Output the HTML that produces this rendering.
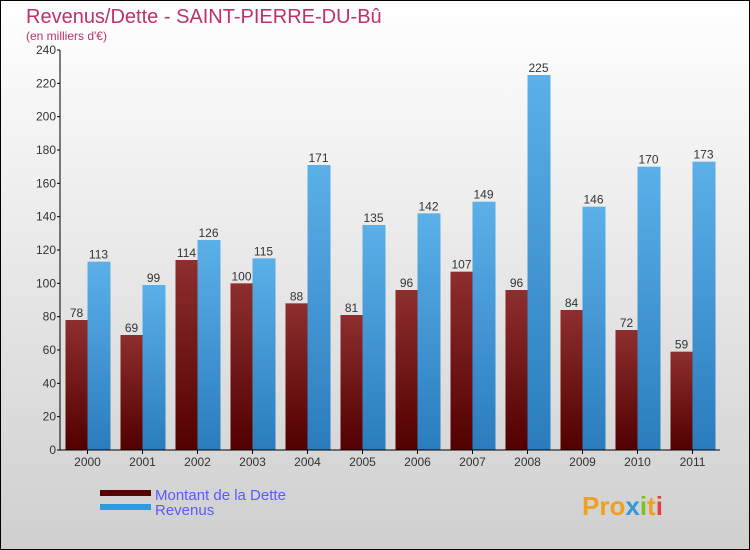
<!DOCTYPE html>
<html><head><meta charset="utf-8"><style>
body{margin:0;width:750px;height:550px;overflow:hidden}
svg{display:block;font-family:"Liberation Sans",sans-serif}
</style></head><body>
<svg width="750" height="550" xmlns="http://www.w3.org/2000/svg">
<defs>
<linearGradient id="bg" x1="0" y1="0" x2="0" y2="1"><stop offset="0" stop-color="#ffffff"/><stop offset="1" stop-color="#cfcfcf"/></linearGradient>
<linearGradient id="gd" x1="0" y1="0" x2="0" y2="1"><stop offset="0" stop-color="#8e2e2e"/><stop offset="1" stop-color="#520000"/></linearGradient>
<linearGradient id="gr" x1="0" y1="0" x2="0" y2="1"><stop offset="0" stop-color="#5cb0e8"/><stop offset="1" stop-color="#2a7cbd"/></linearGradient>
</defs>
<rect x="0.5" y="0.5" width="749" height="549" fill="url(#bg)" stroke="#000"/>
<text x="26" y="23" font-size="20" fill="#c0306a">Revenus/Dette - SAINT-PIERRE-DU-Bû</text>
<text x="26" y="40" font-size="12" fill="#c0306a">(en milliers d'€)</text>
<g id="plot"></g>
<g>
<rect x="100" y="490" width="51" height="6" fill="#5a0000"/>
<text x="155" y="500" font-size="15" fill="#5a5aff">Montant de la Dette</text>
<rect x="100" y="504" width="51" height="6" fill="#3399dd"/>
<text x="155" y="515" font-size="15" fill="#5a5aff">Revenus</text>
</g>
<text x="582" y="515" font-size="26" font-weight="bold" fill="#f0a020">Pro<tspan fill="#3399dd">x</tspan><tspan fill="#80c020">i</tspan>t<tspan fill="#e04040">i</tspan></text>
</svg>
<script>
const categories=["2000","2001","2002","2003","2004","2005","2006","2007","2008","2009","2010","2011"];
const dette=[78,69,114,100,88,81,96,107,96,84,72,59];
const revenus=[113,99,126,115,171,135,142,149,225,146,170,173];
const yTicks=[0,20,40,60,80,100,120,140,160,180,200,220,240];
const NS="http://www.w3.org/2000/svg";
const g=document.getElementById('plot');
const x0=60,step=55,y0=450,yMax=240,hgt=400;
const y=v=>y0-v/yMax*hgt;
const cx=i=>x0+step*(i+0.5);
function mk(t,a){const e=document.createElementNS(NS,t);for(const k in a)e.setAttribute(k,a[k]);g.appendChild(e);return e;}
yTicks.forEach(v=>{
 const t=mk('text',{x:x0-4,y:y(v)+4,'font-size':12,fill:'#333','text-anchor':'end'});t.textContent=v;
 
 
 const l=mk('line',{x1:x0-3,x2:x0,y1:y(v),y2:y(v),stroke:'#000'});
 
 
});
categories.forEach((c,i)=>{
 const b1=mk('rect',{x:cx(i)-22,y:y(dette[i]),width:22,height:y0-y(dette[i]),fill:'url(#gd)'});
 
 
 const b2=mk('rect',{x:cx(i),y:y(revenus[i]),width:23,height:y0-y(revenus[i]),fill:'url(#gr)'});
 
 
 const t1=mk('text',{x:cx(i)-11,y:y(dette[i])-3,'font-size':12,fill:'#333','text-anchor':'middle'});t1.textContent=dette[i];
 
 
 const t2=mk('text',{x:cx(i)+11,y:y(revenus[i])-3,'font-size':12,fill:'#333','text-anchor':'middle'});t2.textContent=revenus[i];
 
 
 const tk=mk('line',{x1:cx(i),x2:cx(i),y1:y0,y2:y0+4,stroke:'#000'});
 
 
 const tl=mk('text',{x:cx(i),y:y0+16,'font-size':12,fill:'#333','text-anchor':'middle'});tl.textContent=c;
 
 
});
const ya=mk('line',{x1:x0,x2:x0,y1:y(240),y2:y0,stroke:'#000'});


const xa=mk('line',{x1:x0,x2:x0+step*12,y1:y0,y2:y0,stroke:'#000'});


</script>
</body></html>
